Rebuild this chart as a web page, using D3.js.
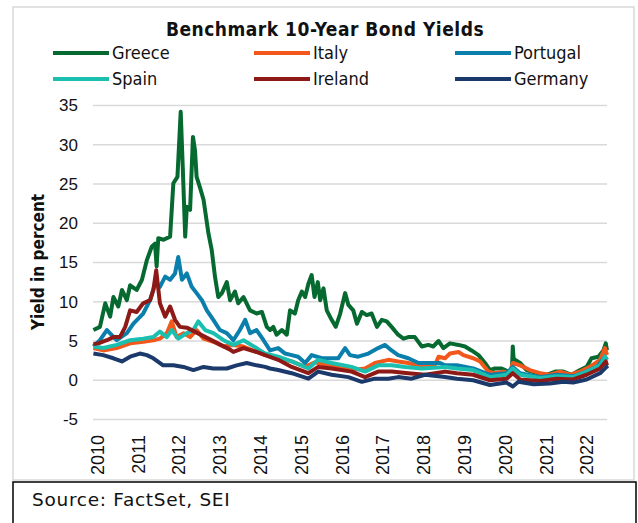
<!DOCTYPE html>
<html>
<head>
<meta charset="utf-8">
<script src="https://cdn.jsdelivr.net/npm/d3@7"></script>
<style>
  body { margin: 0; background: #fff; }
  svg { display: block; font-family: "DejaVu Sans Condensed", "DejaVu Sans", sans-serif; font-stretch: condensed; }
</style>
</head>
<body>
<svg width="638" height="523"></svg>
<script>
// values: [year, yield %]
const greece = [[2009.91,6.4],[2010.07,6.8],[2010.20,9.8],[2010.32,8.1],[2010.40,10.6],[2010.52,9.4],[2010.61,11.5],[2010.73,10.2],[2010.81,12.1],[2010.97,11.5],[2011.10,12.8],[2011.22,15.3],[2011.34,17.0],[2011.42,17.4],[2011.46,14.5],[2011.50,18.1],[2011.63,17.9],[2011.79,18.3],[2011.87,25.1],[2011.97,25.9],[2012.05,34.2],[2012.10,27.2],[2012.16,18.3],[2012.20,22.1],[2012.28,21.7],[2012.35,31.0],[2012.40,29.3],[2012.44,25.9],[2012.52,24.6],[2012.61,23.0],[2012.73,18.7],[2012.81,16.6],[2012.89,13.2],[2012.97,10.6],[2013.06,11.1],[2013.18,12.5],[2013.26,10.2],[2013.38,11.3],[2013.46,9.8],[2013.59,10.6],[2013.75,8.9],[2013.91,8.5],[2014.04,8.7],[2014.16,6.8],[2014.24,6.4],[2014.32,6.8],[2014.40,5.8],[2014.53,6.4],[2014.65,5.8],[2014.73,8.9],[2014.85,8.5],[2014.93,10.2],[2015.02,11.3],[2015.10,10.6],[2015.18,12.3],[2015.26,13.4],[2015.33,10.6],[2015.41,12.5],[2015.47,10.2],[2015.55,11.7],[2015.63,8.9],[2015.75,7.7],[2015.85,6.8],[2015.96,8.5],[2016.08,11.1],[2016.16,9.6],[2016.28,8.9],[2016.37,7.2],[2016.49,8.7],[2016.61,8.3],[2016.73,8.5],[2016.86,6.8],[2016.98,7.7],[2017.10,7.5],[2017.22,6.8],[2017.38,5.8],[2017.51,5.3],[2017.63,5.5],[2017.79,5.5],[2017.96,4.3],[2018.12,4.5],[2018.24,4.3],[2018.37,5.0],[2018.49,4.1],[2018.65,4.7],[2018.86,4.5],[2019.02,4.3],[2019.18,3.8],[2019.35,3.2],[2019.51,2.2],[2019.63,1.3],[2019.75,1.5],[2019.92,1.5],[2020.08,1.1],[2020.17,1.3],[2020.19,4.3],[2020.21,2.8],[2020.25,2.6],[2020.37,2.2],[2020.53,1.3],[2020.78,0.9],[2021.02,0.7],[2021.23,1.1],[2021.43,1.1],[2021.63,0.7],[2021.84,1.3],[2022.00,1.7],[2022.12,2.8],[2022.29,3.0],[2022.41,3.8],[2022.47,4.7],[2022.50,3.8]];
const italy = [[2009.91,4.1],[2010.15,3.8],[2010.48,4.1],[2010.81,4.7],[2011.13,4.9],[2011.38,5.1],[2011.54,5.3],[2011.71,6.0],[2011.83,7.5],[2011.95,5.5],[2012.12,6.0],[2012.28,5.5],[2012.44,6.4],[2012.61,5.3],[2012.85,4.9],[2013.10,4.3],[2013.34,4.5],[2013.59,4.3],[2013.91,3.6],[2014.12,3.2],[2014.44,2.8],[2014.77,2.4],[2015.10,1.7],[2015.34,2.3],[2015.75,1.8],[2016.24,1.3],[2016.57,1.5],[2016.81,2.2],[2017.14,2.6],[2017.38,2.4],[2017.63,2.2],[2017.96,1.7],[2018.28,1.9],[2018.37,3.0],[2018.53,2.8],[2018.65,3.4],[2018.86,3.6],[2018.98,3.2],[2019.22,2.8],[2019.39,2.4],[2019.59,1.1],[2019.75,0.9],[2019.96,1.1],[2020.12,0.9],[2020.19,2.2],[2020.37,1.9],[2020.61,1.3],[2020.86,0.9],[2021.10,0.7],[2021.35,1.1],[2021.59,0.7],[2021.84,1.1],[2022.08,1.7],[2022.33,2.6],[2022.45,4.1],[2022.50,3.2]];
const portugal = [[2009.91,4.3],[2010.07,5.1],[2010.24,6.4],[2010.48,5.1],[2010.73,6.0],[2010.89,7.2],[2011.13,8.5],[2011.30,10.2],[2011.42,12.3],[2011.54,11.9],[2011.67,13.2],[2011.79,12.8],[2011.91,13.6],[2011.99,15.7],[2012.08,12.8],[2012.20,13.6],[2012.32,11.9],[2012.44,11.1],[2012.57,10.2],[2012.69,8.9],[2012.85,7.7],[2013.01,6.4],[2013.18,6.0],[2013.34,5.1],[2013.50,6.4],[2013.63,7.7],[2013.75,6.0],[2013.91,6.4],[2014.08,5.1],[2014.24,3.8],[2014.44,4.1],[2014.61,3.4],[2014.77,3.2],[2014.93,3.0],[2015.10,2.2],[2015.26,3.2],[2015.51,2.8],[2015.75,2.8],[2015.91,2.8],[2016.08,4.1],[2016.20,3.2],[2016.40,3.0],[2016.65,3.4],[2016.89,4.1],[2017.06,4.5],[2017.22,3.8],[2017.38,3.2],[2017.63,2.8],[2017.88,2.2],[2018.20,2.2],[2018.41,2.2],[2018.53,1.9],[2018.82,1.9],[2019.22,1.5],[2019.63,0.7],[2020.04,0.9],[2020.19,1.7],[2020.37,0.9],[2020.86,0.4],[2021.27,0.7],[2021.67,0.5],[2022.00,1.1],[2022.25,1.7],[2022.45,3.0],[2022.50,2.6]];
const spain = [[2009.91,4.3],[2010.15,4.1],[2010.48,4.5],[2010.81,5.1],[2011.13,5.3],[2011.38,5.5],[2011.54,6.2],[2011.71,5.5],[2011.83,6.4],[2011.99,5.3],[2012.20,6.0],[2012.36,6.4],[2012.48,7.5],[2012.65,6.4],[2012.85,6.0],[2013.10,5.1],[2013.34,4.5],[2013.59,5.1],[2013.91,4.1],[2014.12,3.4],[2014.44,3.0],[2014.77,2.4],[2015.18,1.5],[2015.42,2.6],[2015.75,2.2],[2016.24,1.7],[2016.57,1.1],[2016.89,1.9],[2017.22,1.9],[2017.55,1.7],[2017.96,1.5],[2018.53,1.7],[2018.82,1.5],[2019.22,1.3],[2019.63,0.4],[2020.04,0.7],[2020.19,1.5],[2020.37,0.7],[2020.86,0.3],[2021.27,0.5],[2021.67,0.4],[2022.00,1.1],[2022.33,1.9],[2022.45,3.0],[2022.50,2.6]];
const ireland = [[2009.91,4.6],[2010.03,4.7],[2010.24,5.1],[2010.40,5.5],[2010.56,5.5],[2010.69,6.8],[2010.81,8.9],[2010.97,8.7],[2011.13,9.8],[2011.30,10.2],[2011.38,11.5],[2011.45,14.0],[2011.54,9.8],[2011.67,8.1],[2011.79,9.4],[2011.91,7.7],[2012.03,6.8],[2012.20,6.7],[2013.26,3.9],[2013.34,3.6],[2013.59,4.1],[2013.91,3.6],[2014.12,3.2],[2014.44,2.6],[2014.77,1.7],[2015.18,0.9],[2015.42,1.7],[2015.75,1.5],[2016.24,1.1],[2016.57,0.4],[2016.89,1.1],[2017.22,1.1],[2017.63,0.9],[2018.04,0.7],[2018.53,1.1],[2018.82,0.9],[2019.22,0.7],[2019.63,0.0],[2020.04,0.2],[2020.19,0.9],[2020.37,0.1],[2020.86,-0.1],[2021.27,0.2],[2021.67,0.1],[2022.00,0.7],[2022.33,1.5],[2022.47,2.4],[2022.50,1.9]];
const germany = [[2009.91,3.4],[2010.15,3.2],[2010.40,2.8],[2010.61,2.4],[2010.81,3.0],[2011.05,3.4],[2011.22,3.2],[2011.38,2.8],[2011.62,1.9],[2011.87,1.9],[2012.12,1.7],[2012.36,1.3],[2012.61,1.7],[2012.85,1.5],[2013.18,1.5],[2013.42,1.9],[2013.67,2.2],[2013.91,1.9],[2014.12,1.7],[2014.24,1.5],[2014.44,1.3],[2014.77,0.9],[2015.18,0.2],[2015.42,1.1],[2015.75,0.7],[2016.16,0.4],[2016.49,-0.2],[2016.81,0.2],[2017.14,0.2],[2017.38,0.4],[2017.71,0.2],[2018.04,0.7],[2018.53,0.4],[2018.82,0.2],[2019.22,0.0],[2019.63,-0.6],[2020.04,-0.3],[2020.19,-0.8],[2020.33,-0.2],[2020.70,-0.5],[2021.10,-0.4],[2021.43,-0.2],[2021.67,-0.3],[2022.00,0.1],[2022.33,0.9],[2022.49,1.7],[2022.50,1.5]];

const seriesNames = ["Greece", "Italy", "Portugal", "Spain", "Ireland", "Germany"];
const seriesData = [greece, italy, portugal, spain, ireland, germany];
const colors = ["#066a30", "#f2571b", "#0b7fab", "#1bbfb0", "#8e1a17", "#1b3a6b"];
const yTicks = [-5, 0, 5, 10, 15, 20, 25, 30, 35];
const xTicks = [2010, 2011, 2012, 2013, 2014, 2015, 2016, 2017, 2018, 2019, 2020, 2021, 2022];

const svg = d3.select("svg");

// outer frame + source box
svg.append("rect").attr("x", 13).attr("y", 7).attr("width", 621).attr("height", 473)
    .attr("fill", "none").attr("stroke", "#d9d9d9").attr("stroke-width", 1.5);
svg.append("rect").attr("x", 13).attr("y", 482).attr("width", 623).attr("height", 60)
    .attr("fill", "none").attr("stroke", "#000").attr("stroke-width", 1.5);
svg.append("text").attr("x", 32).attr("y", 506).text("Source: FactSet, SEI")
    .style("font-family", "'DejaVu Sans', sans-serif").style("font-stretch", "normal")
    .style("font-size", "18.5px").style("letter-spacing", "0.7px").attr("fill", "#111");

const x = d3.scaleLinear().domain([2009.9, 2022.5]).range([93, 607]);
const y = d3.scaleLinear().domain([-5, 35]).range([419.5, 105.5]);

// gridlines
svg.append("g").selectAll("line").data(yTicks).join("line")
    .attr("x1", 93).attr("x2", 607)
    .attr("y1", d => y(d)).attr("y2", d => y(d))
    .attr("stroke", "#d9d9d9").attr("stroke-width", 1.5);

// y axis labels
const yAxis = svg.append("g").attr("transform", "translate(78,0)")
    .call(d3.axisLeft(y).tickValues(yTicks).tickFormat(d => String(d)).tickSize(0).tickPadding(0));
yAxis.select(".domain").remove();
yAxis.selectAll("text").style("font-size", "17px").style("font-family", null).attr("fill", "#111");

// x axis labels, rotated
const xAxis = svg.append("g").attr("transform", "translate(0,435)")
    .call(d3.axisBottom(x).tickValues(xTicks).tickFormat(d3.format("d")).tickSize(0));
xAxis.select(".domain").remove();
xAxis.selectAll("text")
    .style("font-size", "18px").style("font-family", null).attr("fill", "#111")
    .attr("text-anchor", "end")
    .attr("transform", "rotate(-90)")
    .attr("x", 0).attr("y", 0).attr("dy", "0.35em");

// axis title
svg.append("text")
    .attr("transform", "translate(44,262) rotate(-90)")
    .attr("text-anchor", "middle")
    .style("font-size", "17px").style("font-weight", "bold").attr("fill", "#111")
    .text("Yield in percent");

// title
svg.append("text").attr("x", 325).attr("y", 36).attr("text-anchor", "middle")
    .style("font-size", "19px").style("font-weight", "bold").style("letter-spacing", "0.5px").attr("fill", "#111")
    .text("Benchmark 10-Year Bond Yields");

// lines
const line = d3.line().x(d => x(d[0])).y(d => y(d[1]));
svg.append("g").selectAll("path").data(seriesData).join("path")
    .attr("d", line)
    .attr("fill", "none")
    .attr("stroke", (d, i) => colors[i])
    .attr("stroke-width", 4)
    .attr("stroke-linejoin", "round");

// legend
const legend = svg.append("g");
seriesNames.forEach((name, i) => {
    const lx = 53 + (i % 3) * 201;
    const ly = 53 + Math.floor(i / 3) * 26;
    legend.append("line").attr("x1", lx).attr("x2", lx + 56).attr("y1", ly).attr("y2", ly)
        .attr("stroke", colors[i]).attr("stroke-width", 4);
    legend.append("text").attr("x", lx + 59).attr("y", ly).attr("dy", "0.35em")
        .style("font-size", "18px").attr("fill", "#111").text(name);
});
</script>
</body>
</html>
